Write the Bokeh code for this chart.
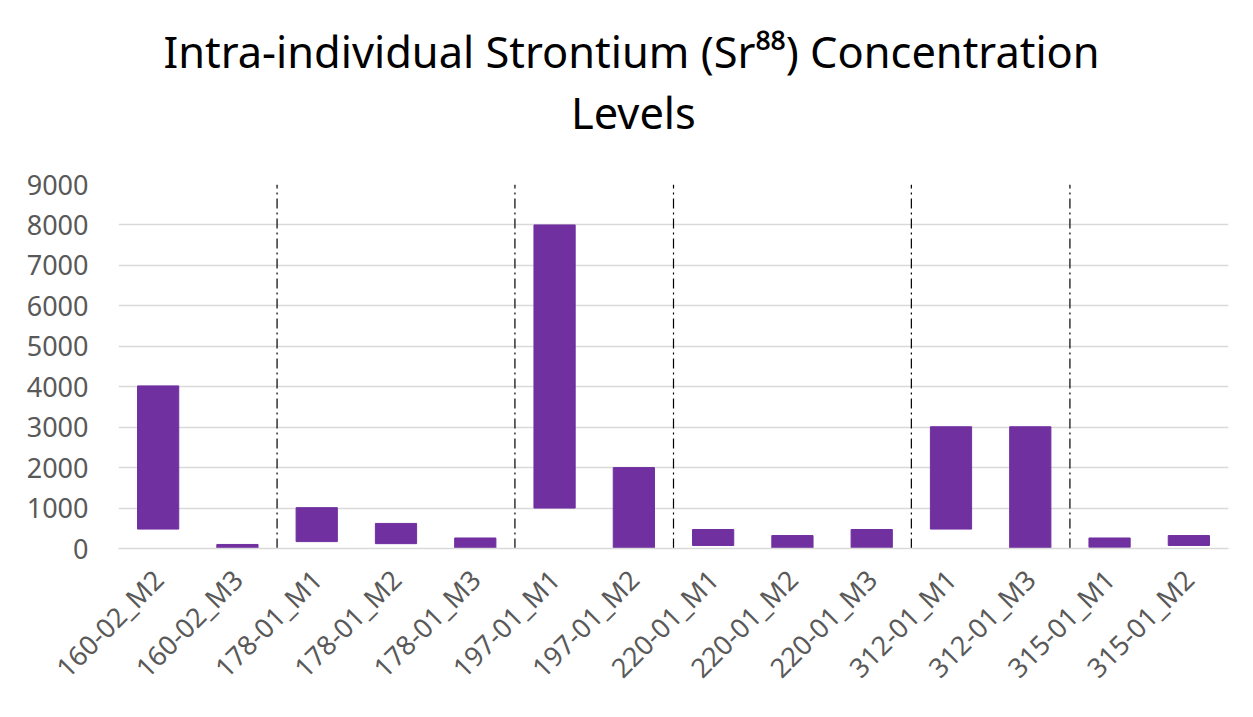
from bokeh.plotting import figure
from bokeh.models import FactorRange, Range1d, FixedTicker, Title
from bokeh.embed import file_html
from bokeh.resources import INLINE

# ---- data ----
samples = ["160-02_M2", "160-02_M3", "178-01_M1", "178-01_M2", "178-01_M3",
           "197-01_M1", "197-01_M2", "220-01_M1", "220-01_M2", "220-01_M3",
           "312-01_M1", "312-01_M3", "315-01_M1", "315-01_M2"]
sr_min = [480, 0, 170, 120, 0, 1000, 0, 75, 0, 20, 480, 0, 30, 75]
sr_max = [4020, 100, 1010, 620, 260, 8000, 2000, 470, 320, 470, 3010, 3010, 260, 320]
y_ticks = [0, 1000, 2000, 3000, 4000, 5000, 6000, 7000, 8000, 9000]
title_lines = ["Intra-individual Strontium (Sr\u2078\u2078) Concentration", "Levels"]

# group boundaries between individuals (synthetic factor coordinates)
individuals = [s.split("_")[0] for s in samples]
boundaries = [i for i in range(1, len(samples)) if individuals[i] != individuals[i - 1]]

FONT = "Noto Sans"
GRID = "#d9d9d9"
TICK = "#595959"
PURPLE = "#7030a0"

p = figure(
    x_range=FactorRange(*samples),
    y_range=Range1d(y_ticks[0], y_ticks[-1]),
    width=1237, height=701,
    output_backend="svg", toolbar_location=None,
    min_border_left=118, min_border_right=9,
    min_border_top=184, min_border_bottom=153,
)
p.title.visible = False
p.outline_line_color = None
p.background_fill_color = "white"
p.border_fill_color = "white"

p.vbar(x=samples, bottom=sr_min, top=sr_max, width=0.52,
       fill_color=PURPLE, line_color=PURPLE, line_width=1)

p.segment(x0=boundaries, y0=[y_ticks[0]] * len(boundaries),
          x1=boundaries, y1=[y_ticks[-1]] * len(boundaries),
          line_color="black", line_width=1.2, line_dash="10 4 2 4")

# axes
p.yaxis.ticker = FixedTicker(ticks=y_ticks)
p.yaxis.axis_line_color = None
p.yaxis.major_tick_line_color = None
p.yaxis.minor_tick_line_color = None
p.yaxis.major_tick_out = 0
p.yaxis.major_tick_in = 0
p.yaxis.major_label_standoff = 30
p.yaxis.major_label_text_font = FONT
p.yaxis.major_label_text_font_size = "27px"
p.yaxis.major_label_text_color = TICK

p.xaxis.axis_line_color = GRID
p.xaxis.axis_line_width = 1.5
p.xaxis.major_tick_line_color = None
p.xaxis.minor_tick_line_color = None
p.xaxis.major_tick_out = 0
p.xaxis.major_tick_in = 0
p.xaxis.major_label_orientation = 0.785398
p.xaxis.major_label_standoff = 26
p.xaxis.major_label_text_font = FONT
p.xaxis.major_label_text_font_size = "27px"
p.xaxis.major_label_text_line_height = 1.0
p.xaxis.major_label_text_color = TICK

p.xgrid.grid_line_color = None
p.ygrid.grid_line_color = GRID
p.ygrid.grid_line_width = 1.5

# title (two lines, stacked upward from the frame; first is a spacer)
p.add_layout(Title(text=" ", standoff=39.8, text_font=FONT, text_font_size="1px",
                   text_color="white"), "above")
p.add_layout(Title(text=title_lines[1], align="left", offset=452.5, standoff=0,
                   text_font=FONT, text_font_size="43.4px", text_font_style="normal",
                   text_color="black"), "above")
p.add_layout(Title(text=title_lines[0], align="left", offset=45, standoff=0,
                   text_font=FONT, text_font_size="43.4px", text_font_style="normal",
                   text_color="black"), "above")

open("out.html", "w").write(file_html(p, INLINE))
